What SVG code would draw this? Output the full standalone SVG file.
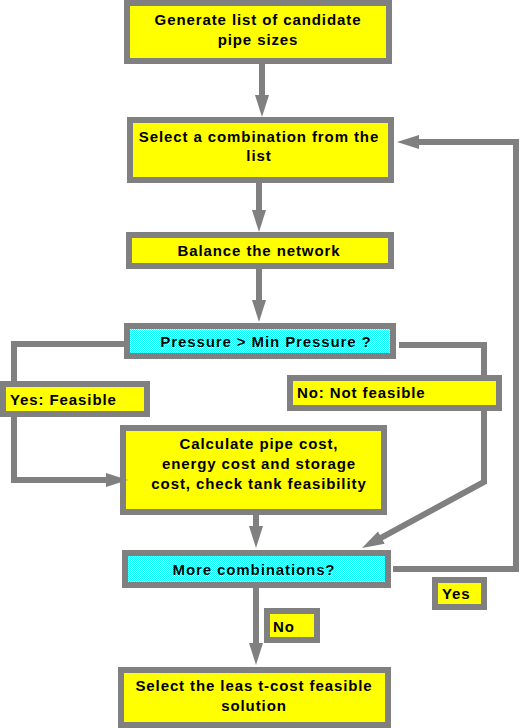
<svg xmlns="http://www.w3.org/2000/svg" width="520" height="728" viewBox="0 0 520 728">
<style>
.box{fill:#ffff00;stroke:#808080;stroke-width:6}
.dec{fill:url(#dither);stroke:#808080;stroke-width:6}
.t{font-family:"Liberation Sans",Arial,sans-serif;font-weight:bold;font-size:15px;letter-spacing:0.9px;fill:#000}
.c{text-anchor:middle}
.ln{fill:none;stroke:#808080;stroke-width:6;stroke-linejoin:miter;stroke-linecap:butt}
.ar{marker-end:url(#ah)}
</style>
<defs>
<pattern id="dither" x="0" y="0" width="4" height="4" patternUnits="userSpaceOnUse">
<path d="M0,0H4V4H0Z" fill="#00ffff"/>
<path d="M1,0H2V1H1Z M3,0H4V1H3Z M0,1H1V2H0Z M2,1H3V2H2Z M1,2H2V3H1Z M3,2H4V3H3Z M0,3H1V4H0Z M2,3H3V4H2Z" fill="#ffffff"/>
</pattern>
<marker id="ah" markerUnits="userSpaceOnUse" viewBox="0 0 22 14" markerWidth="22" markerHeight="14" refX="12" refY="7" orient="auto" overflow="visible">
<path d="M0,0 L22,7 L0,14 z" fill="#808080"/>
</marker>
</defs>
<rect width="520" height="728" fill="#ffffff"/>
<g id="n1"><rect class="box" x="127" y="3" width="262" height="58"/>
<text class="t c" x="258" y="25">Generate list of candidate</text>
<text class="t c" x="258" y="45">pipe sizes</text></g>
<g id="n2"><rect class="box" x="130" y="120" width="261" height="60"/>
<text class="t c" x="259" y="142">Select a combination from the</text>
<text class="t c" x="259" y="161">list</text></g>
<g id="n3"><rect class="box" x="129" y="235" width="262" height="31"/>
<text class="t c" x="259" y="256">Balance the network</text></g>
<g id="d1"><rect class="dec" x="127" y="326" width="266" height="30"/>
<text class="t c" x="266" y="347">Pressure &gt; Min Pressure ?</text></g>
<g id="yes1"><rect class="box" x="3" y="384" width="144" height="30"/>
<text class="t" x="10" y="405">Yes: Feasible</text></g>
<g id="no1"><rect class="box" x="290" y="378" width="209" height="30"/>
<text class="t" x="297" y="398">No: Not feasible</text></g>
<g id="n4"><rect class="box" x="123" y="428" width="261" height="84"/>
<text class="t c" x="259" y="449">Calculate pipe cost,</text>
<text class="t c" x="259" y="469">energy cost and storage</text>
<text class="t c" x="259" y="489">cost, check tank feasibility</text></g>
<g id="d2"><rect class="dec" x="125" y="553" width="263" height="32"/>
<text class="t c" x="254" y="575">More combinations?</text></g>
<g id="yes2"><rect class="box" x="435" y="580" width="49" height="27"/>
<text class="t" x="442" y="599">Yes</text></g>
<g id="no2"><rect class="box" x="267" y="611" width="50" height="29"/>
<text class="t" x="273" y="632">No</text></g>
<g id="n5"><rect class="box" x="121" y="670" width="267" height="55"/>
<text class="t c" x="254" y="691">Select the leas t-cost feasible</text>
<text class="t c" x="254" y="711">solution</text></g>
<g id="connectors">
<path class="ln ar" d="M262,64 L262,107"/>
<path class="ln ar" d="M259,183 L259,222"/>
<path class="ln ar" d="M259,269 L259,312"/>
<path class="ln" d="M124,344 L14,344 L14,381"/>
<path class="ln ar" d="M14,417 L14,480 L118,480"/>
<path class="ln" d="M399,345 L484,345 L484,375"/>
<path class="ln ar" d="M484,411 L484,482 L370.8,543.3"/>
<path class="ln ar" d="M256,515 L256,538"/>
<path class="ln ar" d="M256,588 L256,655"/>
<path class="ln ar" d="M393,569 L516,569 L516,142 L407,142"/>
</g>
</svg>
